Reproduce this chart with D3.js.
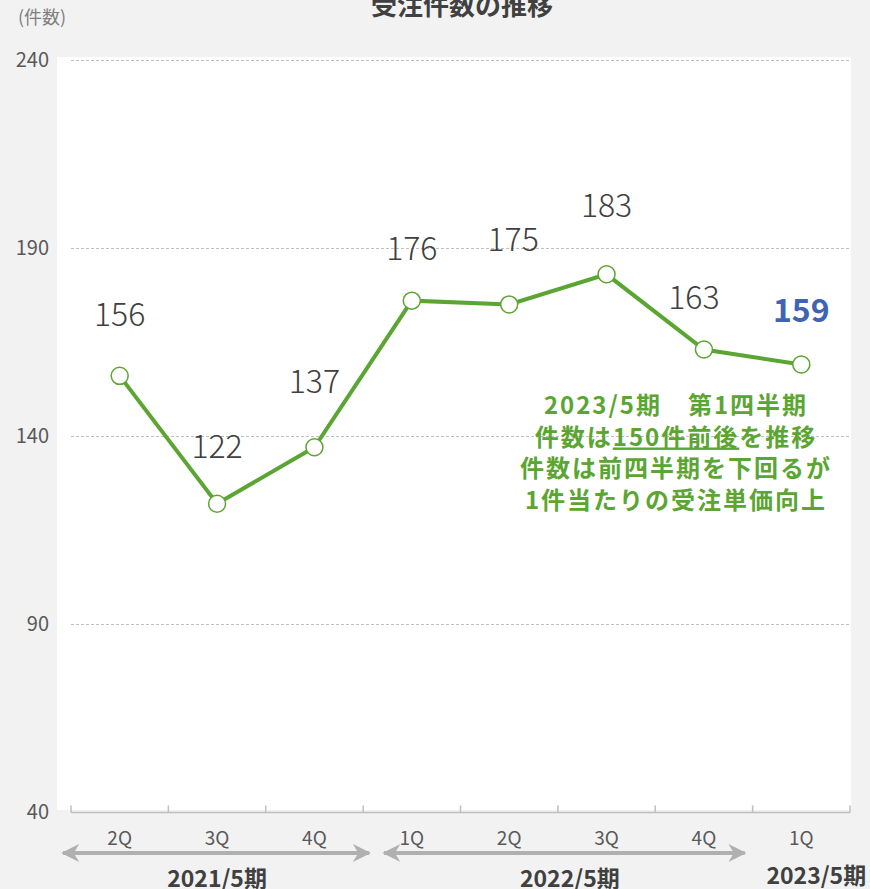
<!DOCTYPE html>
<html>
<head>
<meta charset="utf-8">
<script src="https://cdn.jsdelivr.net/npm/d3@7"></script>
<style>
  body { margin: 0; background: #f2f2f2; }
  svg { display: block; font-family: "Noto Sans CJK JP", "Noto Sans", sans-serif; }
</style>
</head>
<body>
<div id="chart"></div>
<script>
var width = 870,
    height = 889;

// data
var quarters = ['2Q', '3Q', '4Q', '1Q', '2Q', '3Q', '4Q', '1Q'];
var counts = [156, 122, 137, 176, 175, 183, 163, 159];
var yTicks = [40, 90, 140, 190, 240];
var periods = ['2021/5期', '2022/5期', '2023/5期'];
var periodStart = [0, 3, 7];   // first quarter index of each period
var periodEnd = [2, 6, 7];
var labelNudge = [4, 0, 8, -5, 7, 11, -5, -3];  // hand nudges of the value labels
var noteLines = ['2023/5期　第1四半期', '件数は|150件前後|を推移', '件数は前四半期を下回るが', '1件当たりの受注単価向上'];

var green = '#5ba532',
    grey = '#595959';

var margin = {top: 60, right: 20, bottom: 77, left: 71};

var svg = d3.select('#chart').append('svg')
    .attr('width', width)
    .attr('height', height);

var x = d3.scaleBand()
    .domain(d3.range(quarters.length))
    .range([margin.left, width - margin.right])
    .padding(0);

var y = d3.scaleLinear()
    .domain([40, 240])
    .range([height - margin.bottom, margin.top]);

// plot area
svg.append('rect')
    .attr('x', 57).attr('y', 57)
    .attr('width', 851 - 57).attr('height', 810 - 57)
    .attr('fill', '#fff');

// grid
svg.append('g').selectAll('line')
    .data(yTicks.filter(function(d){ return d > 40; }))
    .enter().append('line')
    .attr('x1', margin.left).attr('x2', width - margin.right)
    .attr('y1', function(d){ return y(d) + 0.5; })
    .attr('y2', function(d){ return y(d) + 0.5; })
    .attr('stroke', '#bfbfbf')
    .attr('stroke-dasharray', '3,2');

// y labels
svg.append('g').selectAll('text')
    .data(yTicks)
    .enter().append('text')
    .attr('x', 49)
    .attr('y', function(d){ return y(d); })
    .attr('dy', '0.35em')
    .attr('text-anchor', 'end')
    .attr('fill', grey)
    .style('font-size', '20px')
    .text(function(d){ return d; });

// x axis
var gx = svg.append('g')
    .attr('transform', 'translate(0,' + (y(40) + 0.5) + ')');
gx.append('line')
    .attr('x1', margin.left).attr('x2', width - margin.right)
    .attr('stroke', '#bfbfbf').attr('stroke-width', 1.5);
gx.selectAll('.tk')
    .data(d3.range(quarters.length + 1))
    .enter().append('line')
    .attr('x1', function(d){ return d < quarters.length ? x(d) : x.range()[1]; })
    .attr('x2', function(d){ return d < quarters.length ? x(d) : x.range()[1]; })
    .attr('y1', 0).attr('y2', -7)
    .attr('stroke', '#bfbfbf').attr('stroke-width', 1.5);

svg.append('g').selectAll('text')
    .data(quarters)
    .enter().append('text')
    .attr('x', function(d, i){ return x(i) + x.bandwidth() / 2; })
    .attr('y', 845)
    .attr('text-anchor', 'middle')
    .attr('fill', grey)
    .style('font-size', '19px')
    .text(function(d){ return d; });

// period arrows
var defs = svg.append('defs');
defs.append('marker')
    .attr('id', 'head')
    .attr('viewBox', '0 0 10 10')
    .attr('refX', 9).attr('refY', 5)
    .attr('markerWidth', 4.5).attr('markerHeight', 4.5)
    .attr('markerUnits', 'strokeWidth')
    .attr('orient', 'auto-start-reverse')
    .append('path')
    .attr('d', 'M0,0 L10,5 L0,10 L3,5 Z')
    .attr('fill', '#b0b0b0');

svg.append('g').selectAll('line')
    .data([0, 1])
    .enter().append('line')
    .attr('x1', function(d){ return d == 0 ? 63 : x(periodStart[d]) + 21; })
    .attr('x2', function(d){ return d == 0 ? x(periodEnd[d] + 1) + 6 : x(periodEnd[d] + 1) - 8; })
    .attr('y1', 853).attr('y2', 853)
    .attr('stroke', '#b0b0b0')
    .attr('stroke-width', 4)
    .attr('marker-start', 'url(#head)')
    .attr('marker-end', 'url(#head)');

svg.append('g').selectAll('text')
    .data(periods)
    .enter().append('text')
    .attr('x', function(d, i){
        var c = (x(periodStart[i]) + x(periodEnd[i]) + x.bandwidth()) / 2;
        return i == 2 ? c + 15 : c + (i == 1 ? 12 : 0);
    })
    .attr('y', function(d, i){ return i == 2 ? 884 : 887; })
    .attr('text-anchor', 'middle')
    .attr('fill', '#404040')
    .style('font-size', '23px')
    .style('font-weight', 'bold')
    .text(function(d){ return d; });

// line
var line = d3.line()
    .x(function(d, i){ return x(i) + x.bandwidth() / 2; })
    .y(function(d){ return y(d); });

svg.append('path')
    .datum(counts)
    .attr('d', line)
    .attr('fill', 'none')
    .attr('stroke', green)
    .attr('stroke-width', 4);

svg.append('g').selectAll('circle')
    .data(counts)
    .enter().append('circle')
    .attr('cx', function(d, i){ return x(i) + x.bandwidth() / 2; })
    .attr('cy', function(d){ return y(d); })
    .attr('r', 8.5)
    .attr('fill', '#fff')
    .attr('stroke', green)
    .attr('stroke-width', 1.5);

// value labels
svg.append('g').selectAll('text')
    .data(counts)
    .enter().append('text')
    .attr('x', function(d, i){ return x(i) + x.bandwidth() / 2 + (i == 6 ? -10 : i == 4 ? 4 : 0); })
    .attr('y', function(d, i){ return y(d) - 46 - labelNudge[i]; })
    .attr('text-anchor', 'middle')
    .attr('fill', function(d, i){ return i == counts.length - 1 ? '#3f63b5' : '#404040'; })
    .style('font-size', '32px')
    .style('font-weight', function(d, i){ return i == counts.length - 1 ? 'bold' : '300'; })
    .text(function(d){ return d; });

// note
var note = svg.append('g').selectAll('text')
    .data(noteLines)
    .enter().append('text')
    .attr('x', 676)
    .attr('y', function(d, i){ return 414 + i * 31.5; })
    .attr('text-anchor', 'middle')
    .attr('fill', green)
    .style('font-size', '24px')
    .style('letter-spacing', '2px')
    .style('font-weight', 'bold');
note.each(function(d){
    var parts = d.split('|');
    var t = d3.select(this);
    parts.forEach(function(p, k){
        t.append('tspan')
            .attr('text-decoration', k == 1 ? 'underline' : null)
            .text(p);
    });
});

// titles
svg.append('text')
    .attr('x', 462).attr('y', 15)
    .attr('text-anchor', 'middle')
    .attr('fill', '#404040')
    .style('font-size', '26px')
    .style('font-weight', 'bold')
    .text('受注件数の推移');

svg.append('text')
    .attr('x', 18).attr('y', 24)
    .attr('fill', '#7f7f7f')
    .style('font-size', '18px')
    .text('(件数)');
</script>
</body>
</html>
